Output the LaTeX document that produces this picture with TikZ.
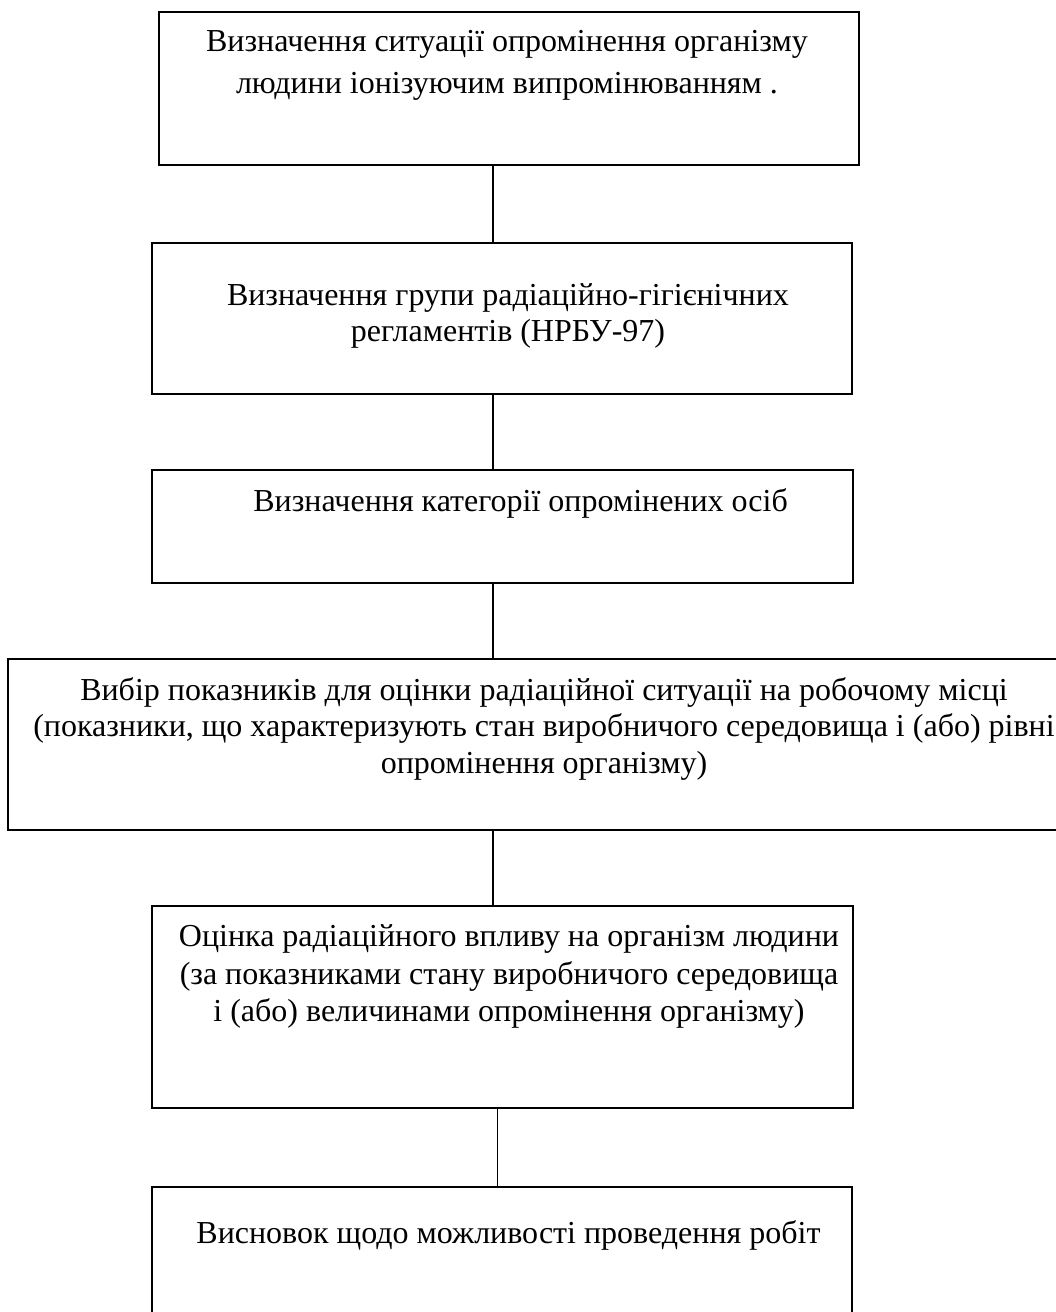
\documentclass[tikz,border=0pt]{standalone}
\usepackage{fontspec}
\setmainfont{Liberation Serif}
\begin{document}
\begin{tikzpicture}[x=1pt,y=-1pt,
  stepbox/.style={draw=black,line width=2pt,inner sep=0pt,outer sep=0pt,anchor=north west,fill=none},
  boxtext/.style={anchor=base,inner sep=0pt,align=center,font=\fontsize{32}{36.7}\selectfont},
  link/.style={draw=black,line width=1.8pt}]
\useasboundingbox[fill=white] (0,0) rectangle (1055,1312);
% boxes
\node[stepbox,minimum width=700.5pt,minimum height=152.8pt] (b1) at (158.5,11.7) {};
\node[stepbox,minimum width=700pt,minimum height=151.3pt] (b2) at (151.7,242.7) {};
\node[stepbox,minimum width=701pt,minimum height=113.3pt] (b3) at (151.7,470) {};
\node[stepbox,minimum width=1071.7pt,minimum height=170.7pt] (b4) at (8.3,659.3) {};
\node[stepbox,minimum width=701pt,minimum height=202.3pt] (b5) at (151.7,905.7) {};
\node[stepbox,minimum width=700.6pt,minimum height=150pt] (b6) at (151.7,1186.7) {};
% texts (anchor = baseline of the last line)
\node[boxtext,font=\fontsize{32}{41.6}\selectfont] (t1) at (507,93.3)
  {Визначення ситуації опромінення організму\\людини іонізуючим випромінюванням .};
\node[boxtext] (t2) at (508,341.7)
  {Визначення групи радіаційно-гігієнічних\\регламентів (НРБУ-97)};
\node[boxtext] (t3) at (520.6,511.7)
  {Визначення категорії опромінених осіб};
\node[boxtext] (t4) at (544,773.4)
  {Вибір показників для оцінки радіаційної ситуації на робочому місці\\(показники, що характеризують стан виробничого середовища і (або) рівні\\опромінення організму)};
\node[boxtext,font=\fontsize{32}{37.5}\selectfont] (t5) at (509,1021.7)
  {Оцінка радіаційного впливу на організм людини\\(за показниками стану виробничого середовища\\і (або) величинами опромінення організму)};
\node[boxtext] (t6) at (508.5,1243.3)
  {Висновок щодо можливості проведення робіт};
% connector columns
\coordinate (ca) at (492.7,0);
\coordinate (cb) at (497.5,0);
\draw[link] (b1.south -| ca) -- (b2.north -| ca);
\draw[link] (b2.south -| ca) -- (b3.north -| ca);
\draw[link] (b3.south -| ca) -- (b4.north -| ca);
\draw[link] (b4.south -| ca) -- (b5.north -| ca);
\draw[link] (b5.south -| cb) -- (b6.north -| cb);
\end{tikzpicture}
\end{document}
